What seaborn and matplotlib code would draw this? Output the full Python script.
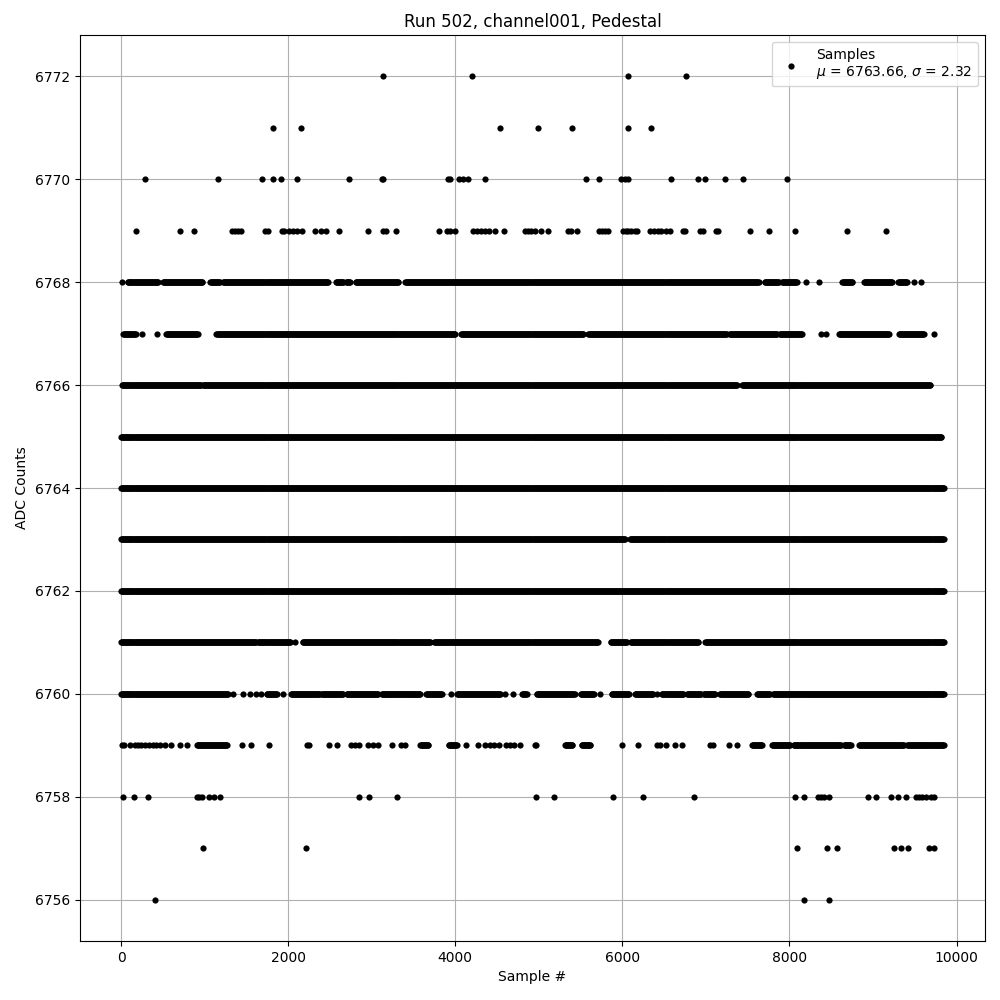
import numpy as np
import pandas as pd
import matplotlib
matplotlib.use("Agg")
import matplotlib.pyplot as plt
import seaborn as sns

# single samples on the sparse ADC levels (sample index)
dots_6772 = [3137, 4195, 6065, 6767]
dots_6771 = [1818, 2156, 4539, 4994, 5397, 6065, 6338]
dots_6770 = [286, 1162, 1688, 1818, 1916, 2104, 2727, 3117, 3137, 3909, 3942,
             4039, 4098, 4150, 4357, 5565, 5721, 5987, 6033, 6065, 6585, 6910,
             6994, 7234, 7442, 7975]
dots_6769 = [175, 701, 870, 1325, 1357, 1396, 1435, 1721, 1753, 1929, 1955,
             2007, 2059, 2111, 2169, 2318, 2396, 2455, 2611, 2955, 3137, 3169,
             3292, 3799, 3903, 3935, 3994, 4208, 4254, 4306, 4357, 4409, 4474,
             4585, 4838, 4871, 4903, 4948, 5020, 5111, 5351, 5384, 5462, 5721,
             5754, 5793, 5832, 6013, 6039, 6072, 6098, 6150, 6176, 6332, 6377,
             6423, 6468, 6520, 6572, 6728, 6748, 6923, 6968, 7124, 7150, 7527,
             7760, 8066, 8683, 9150]
dots_6758 = [26, 156, 318, 903, 935, 968, 1052, 1117, 1182, 2851, 2968, 3305,
             4961, 5176, 5890, 6241, 6858, 8066, 8169, 8345, 8377, 8410, 8475,
             8936, 9040, 9221, 9300, 9397, 9514, 9553, 9592, 9631, 9696, 9728]
dots_6757 = [981, 2214, 8085, 8455, 8572, 9248, 9339, 9417, 9670, 9735]
dots_6756 = [409, 8169, 8475]

# isolated samples on the busier levels
dots_6768 = [8, 8196, 8356, 9492, 9580]
dots_6767 = [248, 428, 8372, 8432, 9732]
dots_6760 = [1340, 1460, 1540, 1620, 1680, 1932, 3948, 4600, 4692, 5000, 5732,
             6412]
dots_6759 = [12, 40, 108, 160, 200, 240, 280, 332, 380, 420, 460, 520, 600,
             708, 788, 1452, 1560, 1772, 2220, 2252, 2492, 2580, 2748, 2800,
             2852, 2960, 3020, 3080, 3240, 3348, 3400, 4132, 4272, 4360, 4412,
             4468, 4520, 4612, 4660, 4708, 4772, 4960, 4952, 5992, 6192, 6412,
             6452, 6520, 6624, 6712, 7052, 7084, 7272, 7372]

# runs of consecutive samples sitting on the same level (first, last sample)
runs_6768 = [(80, 440), (500, 972), (1068, 1180), (1220, 2480), (2572, 2660),
             (2692, 2740), (2808, 3320), (3400, 7632), (7704, 7872),
             (7912, 8092), (8632, 8752), (8892, 9232), (9304, 9412)]
runs_6767 = [(28, 172), (540, 920), (1140, 4000), (4068, 5532), (5592, 7252),
             (7284, 7852), (7884, 8152), (8592, 9192), (9312, 9612)]
runs_6766 = [(12, 960), (980, 7372), (7432, 9692)]
runs_6765 = [(0, 9820)]
runs_6764 = [(0, 9849)]
runs_6763 = [(0, 6032), (6092, 9849)]
runs_6762 = [(0, 9849)]
runs_6761 = [(0, 1620), (1640, 2028), (2080, 2080), (2172, 3700),
             (3748, 5712), (5860, 6052), (6100, 6912), (6992, 9849)]
runs_6760 = [(0, 1280), (1740, 1860), (2032, 2380), (2400, 2660), (2700, 3080),
             (3120, 3580), (3652, 3840), (4020, 4540), (4800, 4860),
             (4972, 5432), (5500, 5660), (5872, 6084), (6152, 6372),
             (6472, 6732), (6772, 6940), (6972, 7112), (7164, 7512),
             (7612, 7764), (7804, 9849)]
runs_6759 = [(908, 1268), (3580, 3680), (3920, 4020), (5312, 5404),
             (5512, 5620), (7552, 7672), (7792, 8012), (8052, 8612),
             (8652, 8732), (8832, 9372), (9412, 9849)]

level_dots = {6772: dots_6772, 6771: dots_6771, 6770: dots_6770,
              6769: dots_6769, 6768: dots_6768, 6767: dots_6767,
              6760: dots_6760, 6759: dots_6759, 6758: dots_6758,
              6757: dots_6757, 6756: dots_6756}
level_runs = {6768: runs_6768, 6767: runs_6767, 6766: runs_6766,
              6765: runs_6765, 6764: runs_6764, 6763: runs_6763,
              6762: runs_6762, 6761: runs_6761, 6760: runs_6760,
              6759: runs_6759}

mean_adc = 6763.66
std_adc = 2.32
run_number = 502
channel = "channel001"

# expand the runs to sample positions
STEP = 8
rows = []
for level, xs in level_dots.items():
    for x in xs:
        rows.append((x, level))
for level, runs in level_runs.items():
    for a, b in runs:
        for x in np.arange(a, b + 1, STEP):
            rows.append((x, level))
df = pd.DataFrame(rows, columns=["sample", "adc"])

fig, ax = plt.subplots(figsize=(10, 10), dpi=100)
sns.scatterplot(data=df, x="sample", y="adc", color="k", s=20, linewidth=0,
                marker="o", ax=ax,
                label="Samples\n$\\mu$ = %.2f, $\\sigma$ = %.2f" % (mean_adc, std_adc))
ax.set_xlabel("Sample #")
ax.set_ylabel("ADC Counts")
ax.set_title("Run %d, %s, Pedestal" % (run_number, channel))
ax.set_yticks(np.arange(6756, 6773, 2))
ax.set_xticks(np.arange(0, 10001, 2000))
ax.grid(True)
ax.set_axisbelow(True)
ax.legend(loc="upper right")
fig.subplots_adjust(left=0.08, right=0.985, top=0.965, bottom=0.059)
fig.savefig("out.png")
